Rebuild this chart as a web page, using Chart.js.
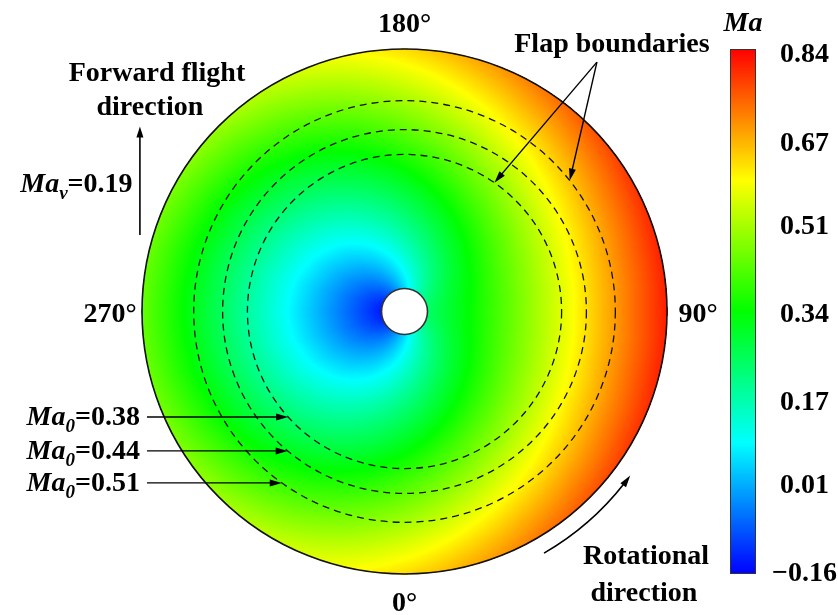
<!DOCTYPE html>
<html>
<head>
<meta charset="utf-8">
<style>
  html, body { margin: 0; padding: 0; background: #fff; }
  canvas { display: block; }
</style>
<script src="https://cdn.jsdelivr.net/npm/chart.js@4.4.1/dist/chart.umd.min.js"></script>
</head>
<body>
<canvas id="disk" width="838" height="615"></canvas>
<script>
// Blade Mach number over the rotor disk (psi = 0 at the tail, rotating anticlockwise)
const radii = [0.08, 0.2, 0.3, 0.4, 0.5, 0.6, 0.7, 0.8, 0.9, 1.0];          // r / R
const azimuths = [0, 15, 30, 45, 60, 75, 90, 105, 120, 135, 150, 165,
                  180, 195, 210, 225, 240, 255, 270, 285, 300, 315, 330, 345]; // degrees
const machGrid = [
  [ 0.051,  0.127, 0.191, 0.254, 0.318, 0.381, 0.445, 0.508, 0.572, 0.635], //   0
  [ 0.100,  0.176, 0.240, 0.303, 0.367, 0.430, 0.494, 0.557, 0.621, 0.684], //  15
  [ 0.146,  0.222, 0.286, 0.349, 0.413, 0.476, 0.540, 0.603, 0.667, 0.730], //  30
  [ 0.185,  0.261, 0.325, 0.388, 0.452, 0.515, 0.579, 0.642, 0.706, 0.769], //  45
  [ 0.215,  0.292, 0.355, 0.419, 0.482, 0.546, 0.609, 0.673, 0.736, 0.800], //  60
  [ 0.234,  0.311, 0.374, 0.438, 0.501, 0.565, 0.628, 0.692, 0.755, 0.819], //  75
  [ 0.241,  0.317, 0.381, 0.444, 0.508, 0.571, 0.635, 0.698, 0.762, 0.825], //  90
  [ 0.234,  0.311, 0.374, 0.438, 0.501, 0.565, 0.628, 0.692, 0.755, 0.819], // 105
  [ 0.215,  0.292, 0.355, 0.419, 0.482, 0.546, 0.609, 0.673, 0.736, 0.800], // 120
  [ 0.185,  0.261, 0.325, 0.388, 0.452, 0.515, 0.579, 0.642, 0.706, 0.769], // 135
  [ 0.146,  0.222, 0.286, 0.349, 0.413, 0.476, 0.540, 0.603, 0.667, 0.730], // 150
  [ 0.100,  0.176, 0.240, 0.303, 0.367, 0.430, 0.494, 0.557, 0.621, 0.684], // 165
  [ 0.051,  0.127, 0.191, 0.254, 0.318, 0.381, 0.445, 0.508, 0.572, 0.635], // 180
  [ 0.002,  0.078, 0.141, 0.205, 0.268, 0.332, 0.395, 0.459, 0.522, 0.586], // 195
  [-0.044,  0.032, 0.096, 0.159, 0.223, 0.286, 0.350, 0.413, 0.477, 0.540], // 210
  [-0.084, -0.007, 0.056, 0.120, 0.183, 0.247, 0.310, 0.374, 0.437, 0.501], // 225
  [-0.114, -0.038, 0.026, 0.090, 0.153, 0.217, 0.280, 0.344, 0.407, 0.471], // 240
  [-0.133, -0.057, 0.007, 0.071, 0.134, 0.198, 0.261, 0.325, 0.388, 0.452], // 255
  [-0.139, -0.063, 0.001, 0.064, 0.128, 0.191, 0.255, 0.318, 0.382, 0.445], // 270
  [-0.133, -0.057, 0.007, 0.071, 0.134, 0.198, 0.261, 0.325, 0.388, 0.452], // 285
  [-0.114, -0.038, 0.026, 0.090, 0.153, 0.217, 0.280, 0.344, 0.407, 0.471], // 300
  [-0.084, -0.007, 0.056, 0.120, 0.183, 0.247, 0.310, 0.374, 0.437, 0.501], // 315
  [-0.044,  0.032, 0.096, 0.159, 0.223, 0.286, 0.350, 0.413, 0.477, 0.540], // 330
  [ 0.002,  0.078, 0.141, 0.205, 0.268, 0.332, 0.395, 0.459, 0.522, 0.586]  // 345
];
const hubRadius = 0.0876;               // r / R
const tipMach = 0.635;                  // rotational tip Mach number
const flightMach = 0.19;                // Ma_v
const flapMach = [0.38, 0.44, 0.51];    // Ma_0 at the flap boundaries
const azimuthLabels = ['0°', '90°', '180°', '270°'];
const colorTicks = [-0.16, 0.01, 0.17, 0.34, 0.51, 0.67, 0.84];
const colorTickLabels = ['\u22120.16', '0.01', '0.17', '0.34', '0.51', '0.67', '0.84'];

// rainbow colour map: blue - cyan - green - yellow - red
const cmapStops = [[0, 0, 0, 255], [0.25, 0, 255, 255], [0.5, 0, 255, 0], [0.75, 255, 255, 0], [1, 255, 0, 0]];
function cmap(t) {
  t = Math.max(0, Math.min(1, t));
  for (let k = 0; k < cmapStops.length - 1; k++) {
    const a = cmapStops[k], b = cmapStops[k + 1];
    if (t <= b[0]) {
      const f = (t - a[0]) / (b[0] - a[0]);
      return [a[1] + (b[1] - a[1]) * f, a[2] + (b[2] - a[2]) * f, a[3] + (b[3] - a[3]) * f];
    }
  }
  return [255, 0, 0];
}

// bilinear lookup in the (azimuth, radius) table
function machAt(r, psi) {
  const n = azimuths.length, step = azimuths[1] - azimuths[0];
  const a = psi / step, ia = Math.floor(a) % n, ib = (ia + 1) % n, fa = a - Math.floor(a);
  let k = 0;
  while (k < radii.length - 2 && r > radii[k + 1]) k++;
  const fr = Math.max(0, Math.min(1, (r - radii[k]) / (radii[k + 1] - radii[k])));
  const va = machGrid[ia][k] * (1 - fr) + machGrid[ia][k + 1] * fr;
  const vb = machGrid[ib][k] * (1 - fr) + machGrid[ib][k + 1] * fr;
  return va * (1 - fa) + vb * fa;
}

const FAMILY = '"Liberation Serif", "Times New Roman", serif';
const font = (size, italic) => (italic ? 'italic ' : '') + 'bold ' + size + 'px ' + FAMILY;

function richText(ctx, parts, x, y, align) {
  let w = 0;
  parts.forEach(p => { ctx.font = font(p.sub ? 19 : 28, p.italic); p.w = ctx.measureText(p.t).width; w += p.w; });
  let cx = align === 'right' ? x - w : align === 'center' ? x - w / 2 : x;
  ctx.textAlign = 'left';
  ctx.textBaseline = 'alphabetic';
  parts.forEach(p => {
    ctx.font = font(p.sub ? 19 : 28, p.italic);
    ctx.fillText(p.t, cx, y + (p.sub ? 7 : 0));
    cx += p.w;
  });
}

function arrowHead(ctx, x, y, ux, uy, len, half) {
  ctx.beginPath();
  ctx.moveTo(x, y);
  ctx.lineTo(x - ux * len - uy * half, y - uy * len + ux * half);
  ctx.lineTo(x - ux * len + uy * half, y - uy * len - ux * half);
  ctx.closePath();
  ctx.fill();
}
function arrow(ctx, x1, y1, x2, y2, len = 12, half = 3.5) {
  const d = Math.hypot(x2 - x1, y2 - y1), ux = (x2 - x1) / d, uy = (y2 - y1) / d;
  ctx.beginPath();
  ctx.moveTo(x1, y1);
  ctx.lineTo(x2 - ux * len * 0.8, y2 - uy * len * 0.8);
  ctx.stroke();
  arrowHead(ctx, x2, y2, ux, uy, len, half);
}

const diskPlugin = {
  id: 'rotorDisk',
  beforeDraw(chart) {
    const ctx = chart.ctx;
    ctx.save();
    ctx.fillStyle = '#fff';
    ctx.fillRect(0, 0, chart.width, chart.height);
    ctx.restore();
  },
  afterDraw(chart) {
    const ctx = chart.ctx;
    const xs = chart.scales.x, ys = chart.scales.y, cb = chart.scales.cb;
    const X = v => xs.getPixelForValue(v), Y = v => ys.getPixelForValue(v);
    const cx = X(0), cy = Y(0), R = X(1) - X(0);
    // point on the disk at (radius, azimuth)
    const P = (r, psiDeg) => {
      const p = psiDeg * Math.PI / 180;
      return [X(r * Math.sin(p)), Y(-r * Math.cos(p))];
    };

    // Mach field
    const x0 = Math.floor(cx - R) - 1, y0 = Math.floor(cy - R) - 1, size = Math.ceil(2 * R) + 4;
    const img = ctx.getImageData(x0, y0, size, size);
    for (let j = 0; j < size; j++) {
      const dy = ys.getValueForPixel(y0 + j + 0.5);
      for (let i = 0; i < size; i++) {
        const dx = xs.getValueForPixel(x0 + i + 0.5);
        const r = Math.hypot(dx, dy);
        if (r > 1.002 || r < hubRadius - 0.01) continue;
        let psi = Math.atan2(dx, -dy) * 180 / Math.PI;
        if (psi < 0) psi += 360;
        const c = cmap((machAt(Math.min(r, 1), psi) - cb.min) / (cb.max - cb.min));
        const k = (j * size + i) * 4;
        img.data[k] = c[0]; img.data[k + 1] = c[1]; img.data[k + 2] = c[2]; img.data[k + 3] = 255;
      }
    }
    ctx.putImageData(img, x0, y0);

    ctx.save();
    // disk outline
    ctx.strokeStyle = '#111';
    ctx.lineWidth = 1.6;
    ctx.beginPath(); ctx.arc(cx, cy, R, 0, Math.PI * 2); ctx.stroke();
    // hub
    ctx.fillStyle = '#fff';
    ctx.strokeStyle = '#333';
    ctx.lineWidth = 1.6;
    ctx.beginPath(); ctx.arc(cx, cy, hubRadius * R, 0, Math.PI * 2); ctx.fill(); ctx.stroke();
    // flap boundaries
    ctx.strokeStyle = '#111';
    ctx.lineWidth = 1.3;
    ctx.setLineDash([7, 5]);
    flapMach.forEach(m => {
      ctx.beginPath(); ctx.arc(cx, cy, (m / tipMach) * R, 0, Math.PI * 2); ctx.stroke();
    });
    ctx.setLineDash([]);

    // colour bar
    const barTop = cb.getPixelForValue(cb.max), barBot = cb.getPixelForValue(cb.min);
    const barW = 26, barL = cb.left - barW;
    for (let py = Math.round(barTop); py < Math.round(barBot); py++) {
      const c = cmap((cb.getValueForPixel(py + 0.5) - cb.min) / (cb.max - cb.min));
      ctx.fillStyle = 'rgb(' + c.map(Math.round).join(',') + ')';
      ctx.fillRect(barL, py, barW, 1);
    }
    ctx.strokeStyle = '#333';
    ctx.lineWidth = 1;
    ctx.strokeRect(barL + 0.5, Math.round(barTop) + 0.5, barW - 1, Math.round(barBot) - Math.round(barTop) - 1);
    ctx.fillStyle = '#000';
    richText(ctx, [{ t: 'Ma', italic: true }], barL + barW / 2, barTop - 18, 'center');

    // azimuth labels
    ctx.fillStyle = '#000';
    ctx.font = font(28);
    ctx.textAlign = 'center';
    ctx.textBaseline = 'alphabetic';
    ctx.fillText(azimuthLabels[0], X(0), Y(-1.140));
    ctx.fillText(azimuthLabels[1], X(1.118), Y(-0.040));
    ctx.fillText(azimuthLabels[2], X(0), Y(1.065));
    ctx.fillText(azimuthLabels[3], X(-1.122), Y(-0.040));

    // forward flight
    ctx.fillText('Forward flight', X(-0.943), Y(0.878));
    ctx.fillText('direction', X(-0.970), Y(0.749));
    ctx.strokeStyle = '#000';
    ctx.lineWidth = 1.6;
    arrow(ctx, X(-1.008), Y(0.291), X(-1.008), Y(0.705), 11, 3.5);
    richText(ctx, [{ t: 'Ma', italic: true }, { t: 'v', italic: true, sub: true }, { t: '=' + flightMach.toFixed(2) }],
      X(-1.036), Y(0.455), 'right');

    // flap boundary call-outs on the retreating side
    const calloutY = [-0.402, -0.531, -0.653];
    flapMach.forEach((m, i) => {
      const r = m / tipMach, yv = calloutY[i];
      const xv = -Math.sqrt(r * r - yv * yv);
      ctx.lineWidth = 1.4;
      arrow(ctx, X(-0.981), Y(yv), X(xv), Y(yv), 12, 3.5);
      richText(ctx, [{ t: 'Ma', italic: true }, { t: '0', italic: true, sub: true }, { t: '=' + m.toFixed(2) }],
        X(-1.008), Y(yv) + 8, 'right');
    });

    // flap boundaries label
    ctx.font = font(28);
    ctx.textAlign = 'center';
    ctx.fillText('Flap boundaries', X(0.790), Y(0.989));
    const apex = [X(0.733), Y(0.950)];
    const tipIn = P(flapMach[0] / tipMach, 145.1);
    const tipOut = P(flapMach[2] / tipMach, 128.4);
    ctx.lineWidth = 1.4;
    arrow(ctx, apex[0], apex[1], tipIn[0], tipIn[1], 12, 3.5);
    arrow(ctx, apex[0], apex[1], tipOut[0], tipOut[1], 12, 3.5);

    // rotational direction
    const rr = 1.063 * R;
    const a0 = (90 - 30) * Math.PI / 180, a1 = (90 - 52) * Math.PI / 180, aTip = (90 - 54) * Math.PI / 180;
    ctx.lineWidth = 1.6;
    ctx.beginPath(); ctx.arc(cx, cy, rr, a0, a1, true); ctx.stroke();
    arrowHead(ctx, cx + rr * Math.cos(aTip), cy + rr * Math.sin(aTip), Math.sin(aTip), -Math.cos(aTip), 12, 3.5);
    ctx.font = font(28);
    ctx.textAlign = 'center';
    ctx.fillText('Rotational', X(0.920), Y(-0.962));
    ctx.fillText('direction', X(0.912), Y(-1.104));
    ctx.restore();
  }
};

new Chart(document.getElementById('disk'), {
  type: 'scatter',
  data: { datasets: [] },
  options: {
    responsive: false,
    animation: false,
    devicePixelRatio: 1,
    layout: { padding: { left: 0, right: 0, top: 49, bottom: 41 } },
    plugins: { legend: { display: false }, tooltip: { enabled: false } },
    scales: {
      x: { type: 'linear', min: -1.541, max: 1.339, display: false },
      y: { type: 'linear', min: -1, max: 1, display: false },
      cb: {
        type: 'linear', position: 'right', min: -0.16, max: 0.852,
        grid: { display: false, drawTicks: false },
        border: { display: false },
        afterBuildTicks: s => { s.ticks = colorTicks.map(v => ({ value: v })); },
        afterFit: s => { s.width = 82; },
        ticks: {
          crossAlign: 'center', padding: 16, color: '#000',
          font: { family: FAMILY, size: 28, weight: 'bold' },
          callback: (v, i) => colorTickLabels[i]
        }
      }
    }
  },
  plugins: [diskPlugin]
});
</script>
</body>
</html>
